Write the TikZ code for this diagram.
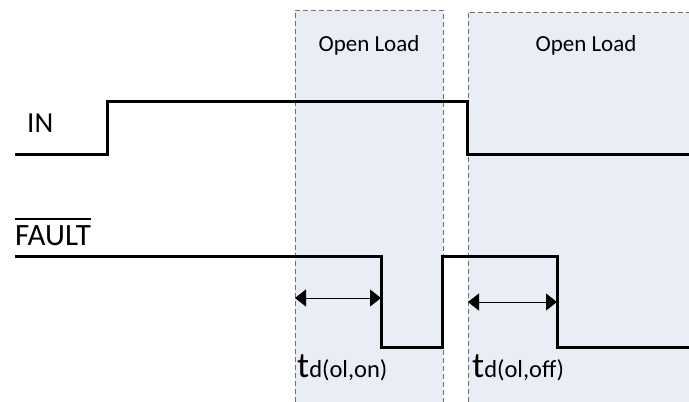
\documentclass[tikz,border=0pt]{standalone}
\usepackage{fontspec}
\setmainfont{Carlito}
\usetikzlibrary{arrows.meta}
\definecolor{olfill}{HTML}{E9EDF5}
\definecolor{olline}{HTML}{6E6E6E}
\begin{document}
\begin{tikzpicture}[x=1pt,y=-1pt,
        sig/.style={line width=3pt},
        olbox/.style={draw=olline, line width=0.8pt, dash pattern=on 5pt off 3pt},
        delay/.style={line width=0.9pt, {Triangle[length=11pt,width=17pt]}-{Triangle[length=11pt,width=17pt]}},
        lbl/.style={font=\fontsize{23}{27}\selectfont, inner sep=0pt}]
    \useasboundingbox (0,0) rectangle (689,402);

    % open load windows
    \fill[olfill] (295,10) rectangle (443,402);
    \fill[olfill] (468,12) rectangle (689,402);
    \draw[olbox] (295,402) -- (295,10) -- (443,10) -- (443,402);
    \draw[olbox] (468,402) -- (468,12) -- (689,12);
    \node[lbl] (ol1) at (369,45) {Open Load};
    \node[lbl] (ol2) at (586,45) {Open Load};

    % signals
    \draw[sig] (15,154) -- (107,154) -- (107,101) -- (467,101) -- (467,154) -- (689,154);
    \draw[sig] (15,256) -- (381,256) -- (381,347) -- (442,347) -- (442,256) -- (557,256) -- (557,347) -- (689,347);

    \node[lbl, font=\fontsize{29}{33}\selectfont, anchor=base west] (in) at (27,132) {IN};
    \node[lbl, font=\fontsize{31}{35}\selectfont, anchor=base west] (fault) at (15,245) {FAULT};
    \draw[line width=2pt] ([yshift=6pt]fault.north west) -- ([yshift=6pt]fault.north east);

    % delay times
    \coordinate (onA) at (295,298);
    \coordinate (onB) at (381,298);
    \coordinate (offA) at (468,302);
    \coordinate (offB) at (557,302);
    \draw[delay] (onA) -- (onB);
    \draw[delay] (offA) -- (offB);

    \node[lbl, anchor=base west] (ton) at (297,377) {{\fontsize{36}{40}\selectfont t}{\fontsize{24.5}{28}\selectfont d(ol,on)}};
    \node[lbl, anchor=base west] (toff) at (472,377) {{\fontsize{36}{40}\selectfont t}{\fontsize{24.5}{28}\selectfont d(ol,off)}};
\end{tikzpicture}
\end{document}
